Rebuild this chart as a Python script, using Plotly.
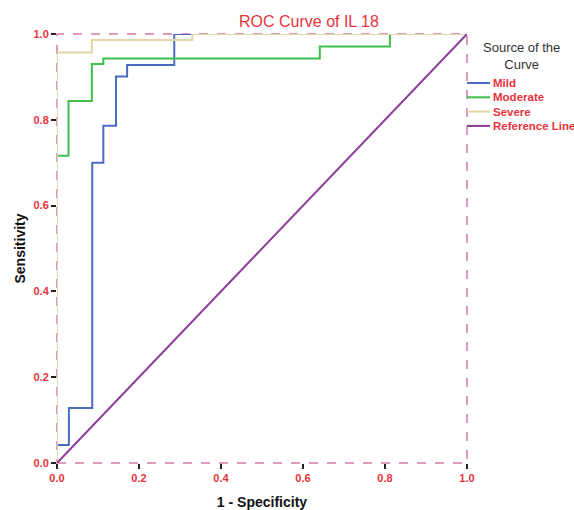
import plotly.graph_objects as go

# ---- data ----
series_names = ["Mild", "Moderate", "Severe", "Reference Line"]
mild_x = [0.0, 0.0, 0.029, 0.086, 0.113, 0.144, 0.171, 0.286, 1.0]
mild_y = [0.0, 0.042, 0.128, 0.700, 0.786, 0.901, 0.928, 1.0, 1.0]
moderate_x = [0.0, 0.0, 0.028, 0.085, 0.113, 0.641, 0.812, 1.0]
moderate_y = [0.0, 0.716, 0.844, 0.930, 0.943, 0.971, 1.0, 1.0]
severe_x = [0.0, 0.0, 0.085, 0.330, 1.0]
severe_y = [0.0, 0.957, 0.986, 1.0, 1.0]
ref_x = [0.0, 1.0]
ref_y = [0.0, 1.0]
tick_vals = [0.0, 0.2, 0.4, 0.6, 0.8, 1.0]
tick_text = ["0.0", "0.2", "0.4", "0.6", "0.8", "1.0"]

colors = ["#4a6cc0", "#3fbf4c", "#e2d6a6", "#8a3c96"]
shapes = ["hv", "hv", "hv", "linear"]
RED = "#e8333c"
FONT = "Liberation Sans, Arial, sans-serif"

W, H = 574, 510
L, R, T, B = 57, 107, 34, 47
PW, PH = W - L - R, H - T - B


def px_x(p):
    return (p - L) / PW


def px_y(p):
    return (H - B - p) / PH


fig = go.Figure()
data = [(mild_x, mild_y), (moderate_x, moderate_y), (severe_x, severe_y), (ref_x, ref_y)]
for (xs, ys), name, col, shp in zip(data, series_names, colors, shapes):
    fig.add_trace(go.Scatter(
        x=xs, y=ys, mode="lines", name=name,
        line=dict(color=col, width=2, shape=shp),
        cliponaxis=False, showlegend=False, hoverinfo="skip",
    ))

axis_common = dict(
    range=[0, 1], tickvals=tick_vals, ticktext=tick_text,
    ticks="outside", ticklen=5, tickwidth=2, tickcolor="#222",
    tickfont=dict(family=FONT, size=11, color=RED, weight="bold"),
    showgrid=False, zeroline=False, showline=False, fixedrange=True,
    automargin=False,
)

fig.update_layout(
    width=W, height=H,
    margin=dict(l=L, r=R, t=T, b=B, autoexpand=False),
    paper_bgcolor="white", plot_bgcolor="white",
    xaxis=dict(**axis_common,
               title=dict(text="<b>1 - Specificity</b>", standoff=15,
                          font=dict(family=FONT, size=14, color="#111"))),
    yaxis=dict(**axis_common,
               title=dict(text="<b>Sensitivity</b>", standoff=4,
                          font=dict(family=FONT, size=14, color="#111"))),
    showlegend=False,
)

# dashed frame
fig.add_shape(type="rect", xref="paper", yref="paper", x0=0, y0=0, x1=1, y1=1,
              line=dict(color="#d27aa8", width=1.5, dash="dash"), layer="below")

# title
fig.add_annotation(text="ROC Curve of IL 18", xref="paper", yref="paper",
                   x=px_x(309), y=px_y(21), showarrow=False,
                   xanchor="center", yanchor="middle",
                   font=dict(family=FONT, size=16, color=RED))

# legend (manual, to match spacing)
fig.add_annotation(text="Source of the<br>Curve", xref="paper", yref="paper",
                   x=px_x(521), y=px_y(56), showarrow=False,
                   xanchor="center", yanchor="middle", align="center",
                   font=dict(family=FONT, size=13, color="#333"))
for i, (name, col) in enumerate(zip(series_names, colors)):
    ry = 83 + 14.3 * i
    fig.add_shape(type="line", xref="paper", yref="paper",
                  x0=px_x(467), x1=px_x(490), y0=px_y(ry), y1=px_y(ry),
                  line=dict(color=col, width=2))
    fig.add_annotation(text="<b>" + name + "</b>", xref="paper", yref="paper",
                       x=px_x(491), y=px_y(ry), showarrow=False,
                       xanchor="left", yanchor="middle",
                       font=dict(family=FONT, size=11.5, color=RED))

fig.write_html("out.html",
               config={"displayModeBar": False},
               post_script="document.body.style.margin='0';document.body.style.overflow='hidden';")
